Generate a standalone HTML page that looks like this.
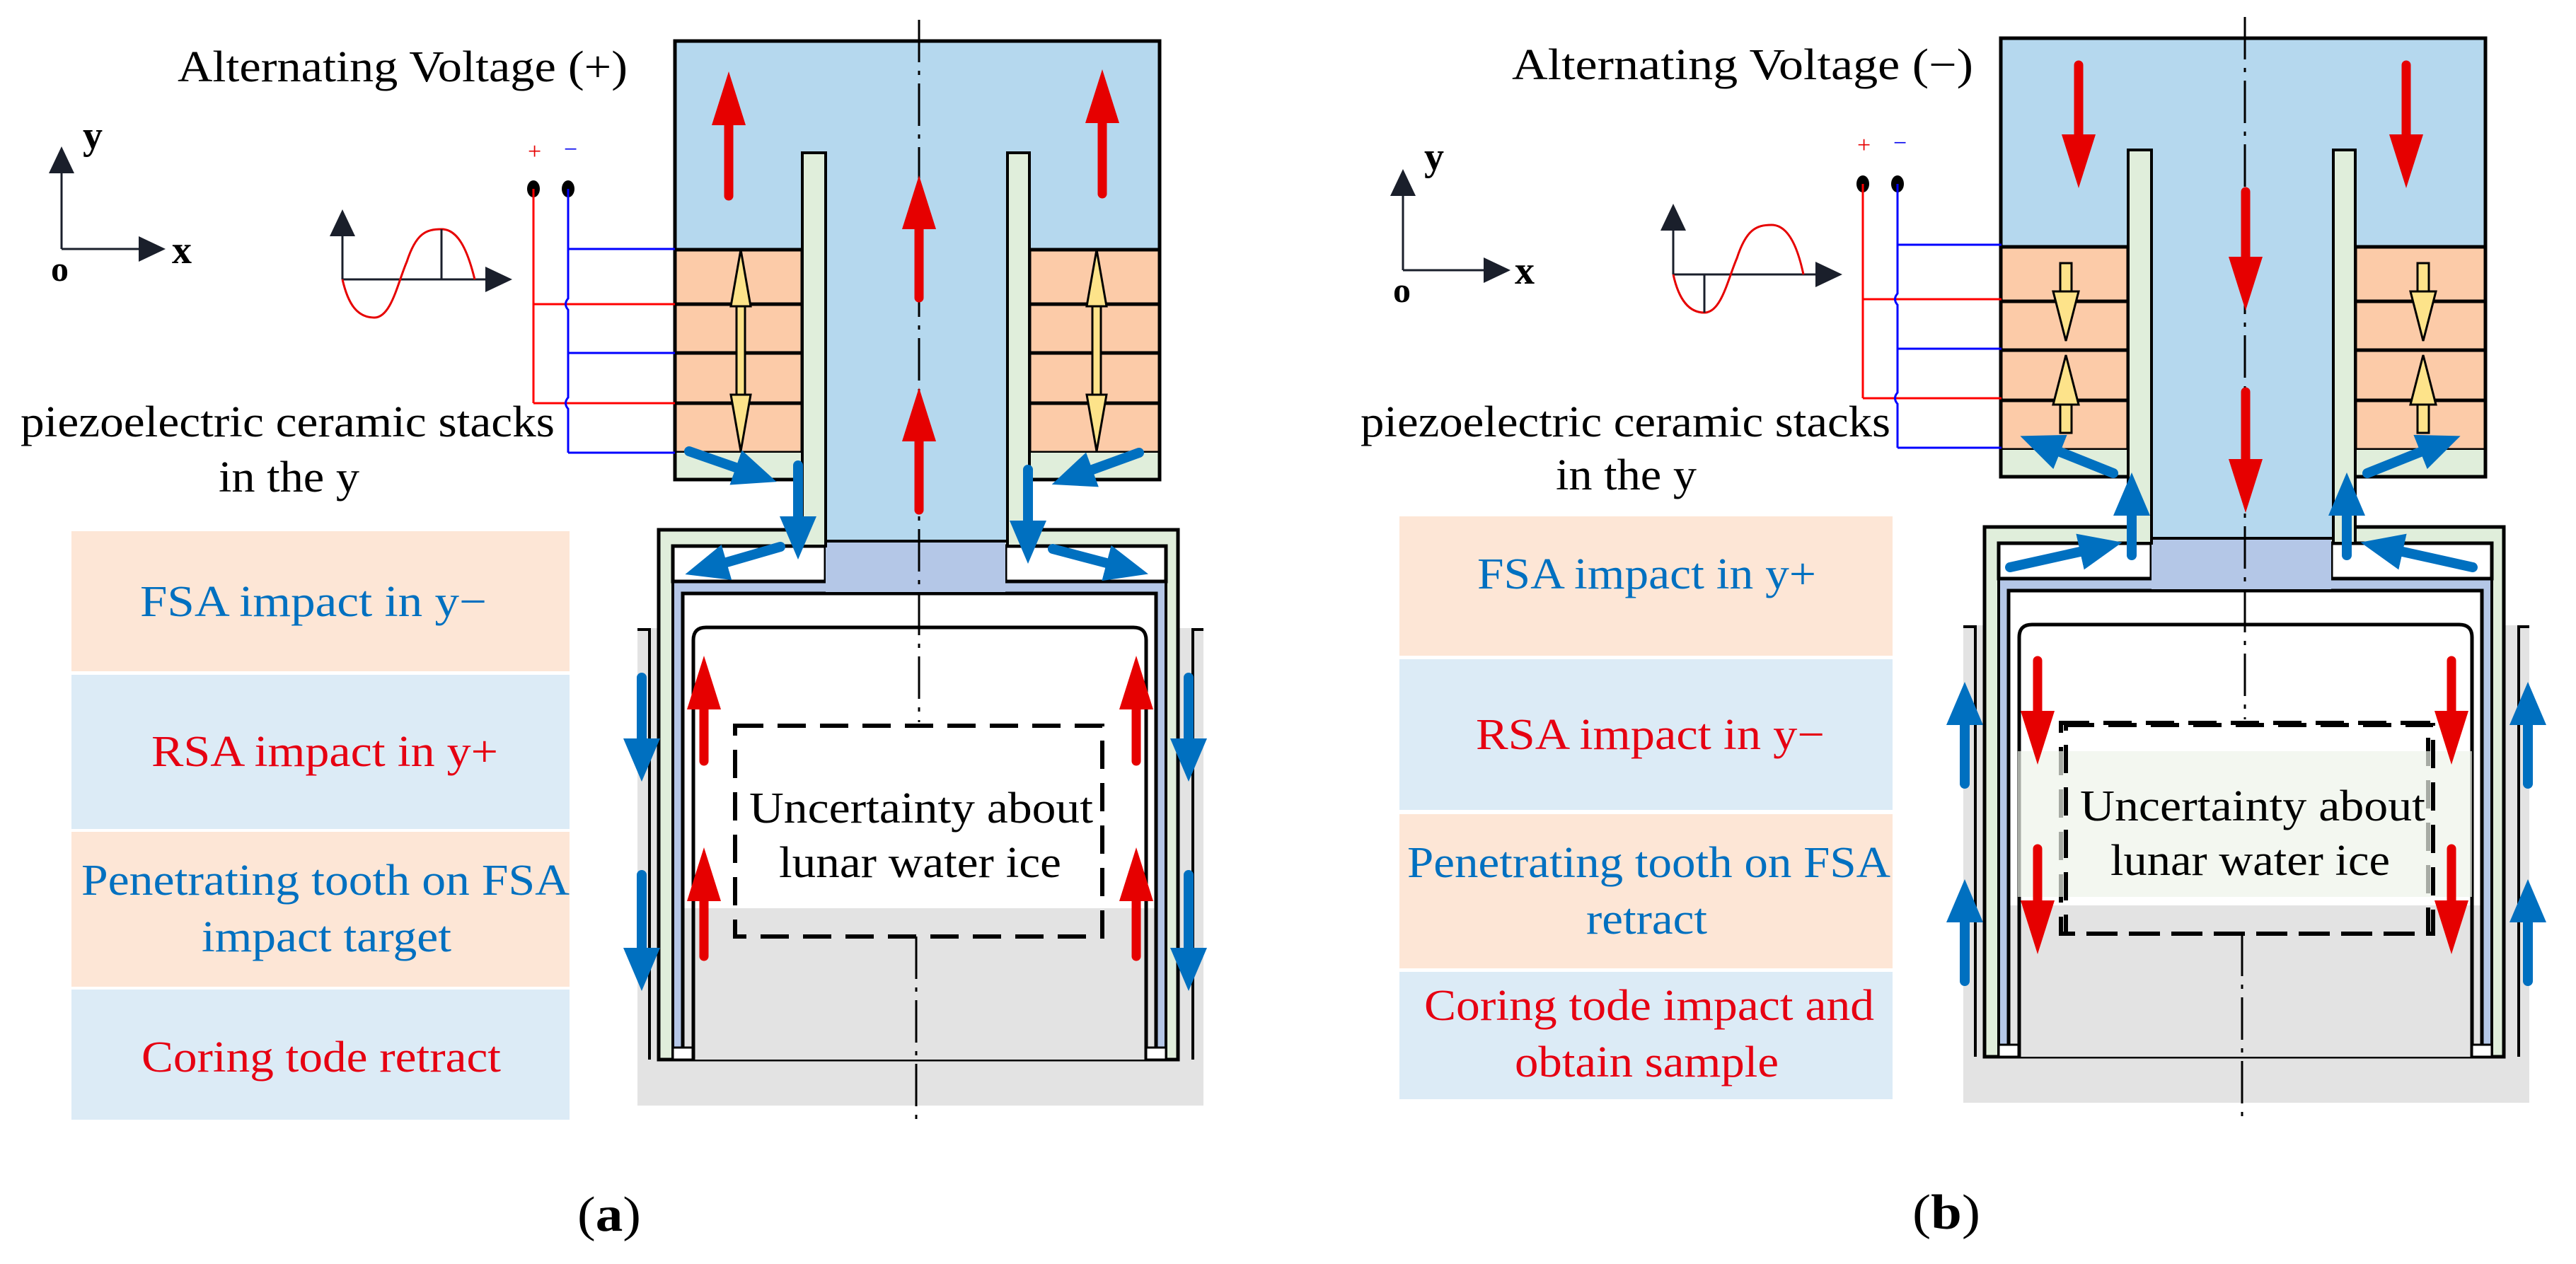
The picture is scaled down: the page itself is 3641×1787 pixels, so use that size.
<!DOCTYPE html>
<html><head><meta charset="utf-8"><style>
html,body{margin:0;padding:0;background:#fff;}
svg{display:block;}
text{font-family:"Liberation Serif",serif;}
</style></head><body>
<svg width="3641" height="1787" viewBox="0 0 3641 1787" xmlns="http://www.w3.org/2000/svg">
<defs>
<marker id="rh" markerUnits="userSpaceOnUse" viewBox="0 -25 76 50" markerWidth="76" markerHeight="50" refX="0" refY="0" orient="auto"><path d="M0,-24 L76,0 L0,24 z" fill="#e60000"/></marker>
<marker id="bh" markerUnits="userSpaceOnUse" viewBox="0 -27 61 54" markerWidth="61" markerHeight="54" refX="0" refY="0" orient="auto"><path d="M0,-26 L61,0 L0,26 z" fill="#0070c0"/></marker>
<marker id="ah" markerUnits="userSpaceOnUse" viewBox="0 -20 40 40" markerWidth="40" markerHeight="40" refX="0" refY="0" orient="auto"><path d="M0,-18 L38,0 L0,18 z" fill="#1a1f2b"/></marker>
<g id="mech">
  <rect x="901" y="888" width="800" height="675" fill="#e3e3e3"/>
  <path d="M901 890 H918 V1498" fill="none" stroke="#000" stroke-width="4"/>
  <path d="M1701 890 H1686 V1498" fill="none" stroke="#000" stroke-width="4"/>
  <rect x="931" y="749" width="734" height="749" fill="#e0eedb" stroke="#000" stroke-width="5"/>
  <rect x="951" y="772" width="697" height="726" fill="#b4c7e7" stroke="#000" stroke-width="4"/>
  <rect x="965" y="839" width="669" height="445" fill="#fff"/>
  <rect x="965" y="1284" width="669" height="214" fill="#e3e3e3"/>
  <path d="M965 1498 V839 H1634 V1498" fill="none" stroke="#000" stroke-width="5"/>
  <path d="M980 1498 V905 Q980 887 998 887 H1602 Q1620 887 1620 905 V1498" fill="none" stroke="#000" stroke-width="5"/>
  <rect x="951" y="1481" width="28" height="17" fill="#fff" stroke="#000" stroke-width="3"/>
  <rect x="1620" y="1481" width="28" height="17" fill="#fff" stroke="#000" stroke-width="3"/>
  <rect x="951" y="772" width="216" height="50" fill="#fff" stroke="#000" stroke-width="5"/>
  <rect x="1421" y="772" width="227" height="50" fill="#fff" stroke="#000" stroke-width="5"/>
  <rect x="1167" y="670" width="257" height="95" fill="#b5d8ee"/>
  <rect x="1167" y="765" width="254" height="72" fill="#b4c7e7"/>
  <line x1="1167" y1="765" x2="1424" y2="765" stroke="#000" stroke-width="4"/>
  <rect x="954" y="58" width="685" height="620" fill="#b5d8ee"/>
  <rect x="954" y="353" width="180" height="287" fill="#fccba8" stroke="#000" stroke-width="5"/>
  <rect x="1455" y="353" width="184" height="287" fill="#fccba8" stroke="#000" stroke-width="5"/>
  <path d="M954 430 H1134 M954 499 H1134 M954 570 H1134 M1455 430 H1639 M1455 499 H1639 M1455 570 H1639" stroke="#000" stroke-width="5"/>
  <rect x="954" y="640" width="180" height="38" fill="#e0eedb"/>
  <rect x="1455" y="640" width="184" height="38" fill="#e0eedb"/>
  <path d="M1134 678 H954 V58 H1639 V678 H1455" fill="none" stroke="#000" stroke-width="5"/>
  <rect x="1134" y="216" width="33" height="556" fill="#e0eedb" stroke="#000" stroke-width="4"/>
  <rect x="1424" y="216" width="31" height="556" fill="#e0eedb" stroke="#000" stroke-width="4"/>
  <rect x="1039" y="1026" width="519" height="298" fill="none" stroke="#000" stroke-width="6" stroke-dasharray="40 20"/>
  <line x1="1299" y1="28" x2="1299" y2="1021" stroke="#000" stroke-width="3" stroke-dasharray="60 12 6 12"/>
  <line x1="1295" y1="1324" x2="1295" y2="1592" stroke="#000" stroke-width="3" stroke-dasharray="60 12 6 12"/>
</g>
</defs>

<use href="#mech"/>
<use href="#mech" transform="translate(1874,-4)"/>

<text x="251" y="115" font-size="62" textLength="636" lengthAdjust="spacingAndGlyphs">Alternating Voltage (+)</text>
<line x1="87" y1="352" x2="87" y2="245" stroke="#1a1f2b" stroke-width="3" marker-end="url(#ah)"/>
<line x1="87" y1="352" x2="196" y2="352" stroke="#1a1f2b" stroke-width="3" marker-end="url(#ah)"/>
<text x="117" y="210" font-size="56" font-weight="bold">y</text>
<text x="243" y="372" font-size="56" font-weight="bold">x</text>
<text x="72" y="397" font-size="50" font-weight="bold">o</text>
<line x1="484" y1="395" x2="484" y2="334" stroke="#1a1f2b" stroke-width="3" marker-end="url(#ah)"/>
<line x1="484" y1="395" x2="686" y2="395" stroke="#1a1f2b" stroke-width="3" marker-end="url(#ah)"/>
<path d="M484 395 C492 430 505 449 529 449 C553 449 562 400 575 370 C588 330 602 324 624 324 C646 324 660 350 671 395" fill="none" stroke="#e60000" stroke-width="3"/>
<line x1="624" y1="324" x2="624" y2="395" stroke="#1a1f2b" stroke-width="3"/>
<text x="746" y="225" font-size="34" fill="#e60000">+</text>
<text x="797" y="222" font-size="34" fill="#0000ee">−</text>
<ellipse cx="754" cy="267" rx="9" ry="12" fill="#000"/>
<ellipse cx="803" cy="267" rx="9" ry="12" fill="#000"/>
<path d="M754 267 V570 M754 430 H954 M754 570 H954" fill="none" stroke="#ff0000" stroke-width="3"/>
<path d="M803 267 V422 Q796 430 803 438 V562 Q796 570 803 578 V640 M803 352 H954 M803 499 H954 M803 640 H954" fill="none" stroke="#0000ff" stroke-width="3"/>
<text x="29" y="617" font-size="62" textLength="755" lengthAdjust="spacingAndGlyphs">piezoelectric ceramic stacks</text>
<text x="309" y="695" font-size="62" textLength="199" lengthAdjust="spacingAndGlyphs">in the y</text>
<rect x="101" y="751" width="704" height="198" fill="#fde6d6"/>
<rect x="101" y="954" width="704" height="218" fill="#dcebf6"/>
<rect x="101" y="1176" width="704" height="219" fill="#fde6d6"/>
<rect x="101" y="1399" width="704" height="184" fill="#dcebf6"/>
<text x="198" y="871" font-size="62" fill="#0070c0" textLength="490" lengthAdjust="spacingAndGlyphs">FSA impact in y−</text>
<text x="214" y="1083" font-size="62" fill="#e60012" textLength="490" lengthAdjust="spacingAndGlyphs">RSA impact in y+</text>
<text x="115" y="1265" font-size="62" fill="#0070c0" textLength="690" lengthAdjust="spacingAndGlyphs">Penetrating tooth on FSA</text>
<text x="285" y="1345" font-size="62" fill="#0070c0" textLength="353" lengthAdjust="spacingAndGlyphs">impact target</text>
<text x="200" y="1515" font-size="62" fill="#e60012" textLength="508" lengthAdjust="spacingAndGlyphs">Coring tode retract</text>
<text x="1059" y="1163" font-size="62" textLength="486" lengthAdjust="spacingAndGlyphs">Uncertainty about</text>
<text x="1101" y="1240" font-size="62" textLength="399" lengthAdjust="spacingAndGlyphs">lunar water ice</text>
<text x="816" y="1740" font-size="70" textLength="90" lengthAdjust="spacingAndGlyphs">(<tspan font-weight="bold">a</tspan>)</text>
<g stroke="#e60000" stroke-width="13" stroke-linecap="round" marker-end="url(#rh)">
<line x1="1030" y1="277" x2="1030" y2="177"/>
<line x1="1558" y1="274" x2="1558" y2="174"/>
<line x1="1299" y1="421" x2="1299" y2="324"/>
<line x1="1299" y1="721" x2="1299" y2="624"/>
<line x1="995" y1="1076" x2="995" y2="1003"/>
<line x1="995" y1="1352" x2="995" y2="1274"/>
<line x1="1606" y1="1076" x2="1606" y2="1003"/>
<line x1="1606" y1="1352" x2="1606" y2="1274"/>
</g>
<g fill="#fde38a" stroke="#000" stroke-width="3">
<rect x="1041" y="430" width="12" height="131"/>
<path d="M1033 433 L1047 353 L1061 433 z M1033 558 L1047 638 L1061 558 z"/>
<rect x="1544" y="430" width="12" height="131"/>
<path d="M1536 433 L1550 353 L1564 433 z M1536 558 L1550 638 L1564 558 z"/>
</g>
<g stroke="#0070c0" stroke-width="14" stroke-linecap="round" marker-end="url(#bh)">
<line x1="974" y1="638" x2="1040" y2="661"/>
<line x1="1128" y1="658" x2="1128" y2="730"/>
<line x1="1103" y1="773" x2="1027" y2="795"/>
<line x1="1610" y1="640" x2="1544" y2="664"/>
<line x1="1453" y1="664" x2="1453" y2="736"/>
<line x1="1488" y1="776" x2="1564" y2="796"/>
<line x1="907" y1="958" x2="907" y2="1044"/>
<line x1="907" y1="1237" x2="907" y2="1340"/>
<line x1="1680" y1="958" x2="1680" y2="1044"/>
<line x1="1680" y1="1237" x2="1680" y2="1340"/>
</g>

<rect x="2852" y="1062" width="642" height="206" fill="#eef3ea" opacity="0.7"/>
<rect x="2920" y="1025" width="519" height="295" fill="none" stroke="#000" stroke-width="6" stroke-dasharray="40 20"/>
<text x="2137" y="112" font-size="62" textLength="652" lengthAdjust="spacingAndGlyphs">Alternating Voltage (−)</text>
<line x1="1983" y1="382" x2="1983" y2="277" stroke="#1a1f2b" stroke-width="3" marker-end="url(#ah)"/>
<line x1="1983" y1="382" x2="2097" y2="382" stroke="#1a1f2b" stroke-width="3" marker-end="url(#ah)"/>
<text x="2013" y="240" font-size="56" font-weight="bold">y</text>
<text x="2141" y="401" font-size="56" font-weight="bold">x</text>
<text x="1969" y="427" font-size="50" font-weight="bold">o</text>
<line x1="2365" y1="388" x2="2365" y2="326" stroke="#1a1f2b" stroke-width="3" marker-end="url(#ah)"/>
<line x1="2365" y1="388" x2="2566" y2="388" stroke="#1a1f2b" stroke-width="3" marker-end="url(#ah)"/>
<path d="M2365 388 C2372 420 2385 442 2409 442 C2433 442 2442 395 2455 365 C2468 325 2482 318 2504 318 C2526 318 2540 345 2549 388" fill="none" stroke="#e60000" stroke-width="3"/>
<line x1="2409" y1="388" x2="2409" y2="442" stroke="#1a1f2b" stroke-width="3"/>
<text x="2625" y="216" font-size="34" fill="#e60000">+</text>
<text x="2676" y="213" font-size="34" fill="#0000ee">−</text>
<ellipse cx="2633" cy="260" rx="9" ry="12" fill="#000"/>
<ellipse cx="2682" cy="260" rx="9" ry="12" fill="#000"/>
<path d="M2633 260 V563 M2633 423 H2829 M2633 563 H2829" fill="none" stroke="#ff0000" stroke-width="3"/>
<path d="M2682 260 V415 Q2675 423 2682 431 V555 Q2675 563 2682 571 V633 M2682 346 H2829 M2682 493 H2829 M2682 633 H2829" fill="none" stroke="#0000ff" stroke-width="3"/>
<text x="1923" y="617" font-size="62" textLength="749" lengthAdjust="spacingAndGlyphs">piezoelectric ceramic stacks</text>
<text x="2199" y="692" font-size="62" textLength="199" lengthAdjust="spacingAndGlyphs">in the y</text>
<rect x="1978" y="730" width="697" height="197" fill="#fde6d6"/>
<rect x="1978" y="932" width="697" height="213" fill="#dcebf6"/>
<rect x="1978" y="1151" width="697" height="218" fill="#fde6d6"/>
<rect x="1978" y="1374" width="697" height="180" fill="#dcebf6"/>
<text x="2088" y="832" font-size="62" fill="#0070c0" textLength="479" lengthAdjust="spacingAndGlyphs">FSA impact in y+</text>
<text x="2086" y="1059" font-size="62" fill="#e60012" textLength="493" lengthAdjust="spacingAndGlyphs">RSA impact in y−</text>
<text x="1989" y="1240" font-size="62" fill="#0070c0" textLength="683" lengthAdjust="spacingAndGlyphs">Penetrating tooth on FSA</text>
<text x="2242" y="1320" font-size="62" fill="#0070c0" textLength="171" lengthAdjust="spacingAndGlyphs">retract</text>
<text x="2013" y="1442" font-size="62" fill="#e60012" textLength="636" lengthAdjust="spacingAndGlyphs">Coring tode impact and</text>
<text x="2141" y="1522" font-size="62" fill="#e60012" textLength="373" lengthAdjust="spacingAndGlyphs">obtain sample</text>
<text x="2940" y="1160" font-size="62" textLength="488" lengthAdjust="spacingAndGlyphs">Uncertainty about</text>
<text x="2983" y="1237" font-size="62" textLength="395" lengthAdjust="spacingAndGlyphs">lunar water ice</text>
<text x="2703" y="1737" font-size="70" textLength="96" lengthAdjust="spacingAndGlyphs">(<tspan font-weight="bold">b</tspan>)</text>
<g stroke="#e60000" stroke-width="13" stroke-linecap="round" marker-end="url(#rh)">
<line x1="2938" y1="92" x2="2938" y2="190"/>
<line x1="3401" y1="92" x2="3401" y2="190"/>
<line x1="3174" y1="271" x2="3174" y2="363"/>
<line x1="3174" y1="554" x2="3174" y2="649"/>
<line x1="2880" y1="934" x2="2880" y2="1005"/>
<line x1="2880" y1="1200" x2="2880" y2="1273"/>
<line x1="3465" y1="934" x2="3465" y2="1005"/>
<line x1="3465" y1="1200" x2="3465" y2="1273"/>
</g>
<g fill="#fde38a" stroke="#000" stroke-width="3">
<rect x="2912" y="372" width="16" height="42"/>
<path d="M2902 412 L2920 482 L2938 412 z"/>
<rect x="2912" y="570" width="16" height="42"/>
<path d="M2902 572 L2920 502 L2938 572 z"/>
<rect x="3417" y="372" width="16" height="42"/>
<path d="M3407 412 L3425 482 L3443 412 z"/>
<rect x="3417" y="570" width="16" height="42"/>
<path d="M3407 572 L3425 502 L3443 572 z"/>
</g>
<g stroke="#0070c0" stroke-width="14" stroke-linecap="round" marker-end="url(#bh)">
<line x1="2987" y1="669" x2="2912" y2="639"/>
<line x1="3013" y1="785" x2="3013" y2="729"/>
<line x1="2841" y1="802" x2="2940" y2="780"/>
<line x1="3346" y1="669" x2="3421" y2="639"/>
<line x1="3317" y1="785" x2="3317" y2="729"/>
<line x1="3495" y1="802" x2="3396" y2="780"/>
<line x1="2777" y1="1108" x2="2777" y2="1025"/>
<line x1="2777" y1="1387" x2="2777" y2="1304"/>
<line x1="3573" y1="1108" x2="3573" y2="1025"/>
<line x1="3573" y1="1387" x2="3573" y2="1304"/>
</g>
</svg>
</body></html>
